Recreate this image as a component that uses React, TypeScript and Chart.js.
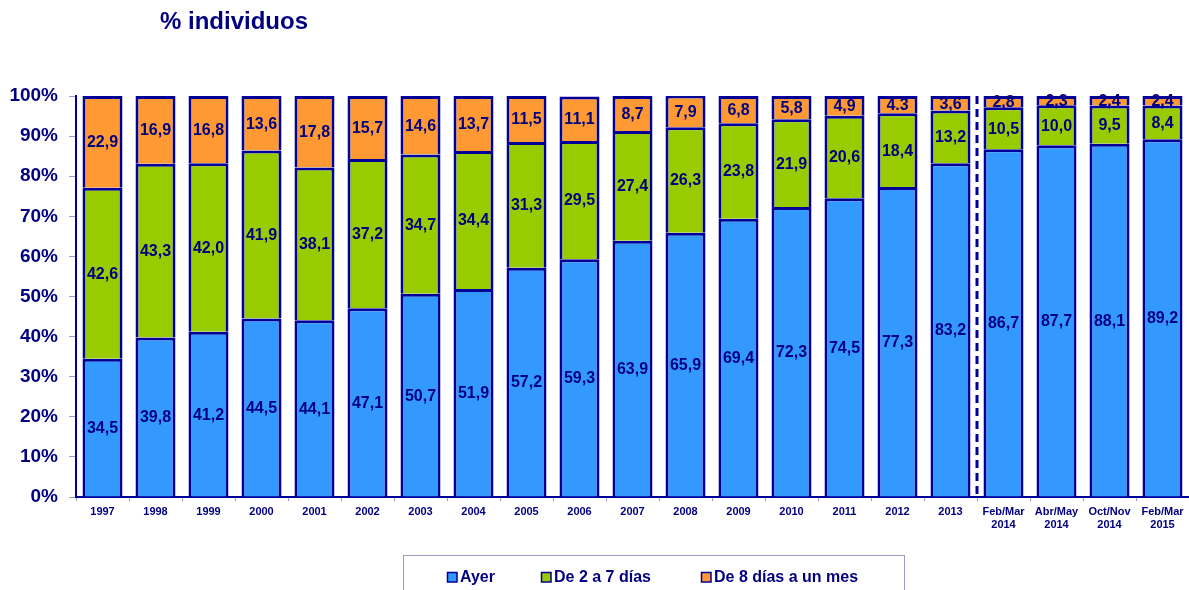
import React, { useEffect, useRef } from 'react';
import { Chart, registerables } from 'chart.js';

Chart.register(...registerables);

const categories: (string | string[])[] = [
  '1997', '1998', '1999', '2000', '2001', '2002', '2003', '2004', '2005', '2006',
  '2007', '2008', '2009', '2010', '2011', '2012', '2013',
  ['Feb/Mar', '2014'], ['Abr/May', '2014'], ['Oct/Nov', '2014'], ['Feb/Mar', '2015'],
];

const ayer = [34.5, 39.8, 41.2, 44.5, 44.1, 47.1, 50.7, 51.9, 57.2, 59.3, 63.9, 65.9, 69.4, 72.3, 74.5, 77.3, 83.2, 86.7, 87.7, 88.1, 89.2];
const de2a7 = [42.6, 43.3, 42.0, 41.9, 38.1, 37.2, 34.7, 34.4, 31.3, 29.5, 27.4, 26.3, 23.8, 21.9, 20.6, 18.4, 13.2, 10.5, 10.0, 9.5, 8.4];
const de8aMes = [22.9, 16.9, 16.8, 13.6, 17.8, 15.7, 14.6, 13.7, 11.5, 11.1, 8.7, 7.9, 6.8, 5.8, 4.9, 4.3, 3.6, 2.8, 2.3, 2.4, 2.4];

const seriesNames = ['Ayer', 'De 2 a 7 días', 'De 8 días a un mes'];
const seriesColors = ['#3399ff', '#99cc00', '#ff9933'];
const titleText = '% individuos';
// label printed with a period in the original (2012, "De 8 días a un mes")
const labelOverrides: Record<string, string> = { '2-15': '4.3' };
// the dashed separator sits between these two category indexes
const separatorAfter = 16;

const NAVY = '#000080';
const BORDER = '#000099';
const LIGHT = '#9999cc';
const FONT = '"Liberation Sans", Arial, Helvetica, sans-serif';

const fmt = (v: number, di: number, i: number) =>
  labelOverrides[`${di}-${i}`] ?? v.toFixed(1).replace('.', ',');

const overlayPlugin = {
  id: 'overlay',
  afterDatasetsDraw(chart: any) {
    const { ctx, chartArea } = chart;
    // data labels
    ctx.save();
    ctx.font = `bold 16px ${FONT}`;
    ctx.fillStyle = NAVY;
    ctx.textAlign = 'center';
    ctx.textBaseline = 'middle';
    chart.data.datasets.forEach((ds: any, di: number) => {
      const meta = chart.getDatasetMeta(di);
      meta.data.forEach((el: any, i: number) => {
        const p = el.getProps(['x', 'y', 'base'], true);
        ctx.fillText(fmt(ds.data[i], di, i), p.x, (p.y + p.base) / 2 + 1);
      });
    });
    ctx.restore();

    // dashed separator
    const xs = chart.scales.x;
    const sx = (xs.getPixelForValue(separatorAfter) + xs.getPixelForValue(separatorAfter + 1)) / 2;
    ctx.save();
    ctx.strokeStyle = BORDER;
    ctx.lineWidth = 3;
    ctx.setLineDash([8, 5]);
    ctx.beginPath();
    ctx.moveTo(sx, chartArea.top);
    ctx.lineTo(sx, chartArea.bottom);
    ctx.stroke();
    ctx.restore();
  },
  afterDraw(chart: any) {
    const { ctx } = chart;
    // title
    ctx.save();
    ctx.font = `bold 24px ${FONT}`;
    ctx.fillStyle = NAVY;
    ctx.textAlign = 'left';
    ctx.textBaseline = 'middle';
    ctx.fillText(titleText, 160, 22);
    ctx.restore();

    // legend box
    ctx.save();
    ctx.strokeStyle = LIGHT;
    ctx.lineWidth = 1;
    ctx.strokeRect(403.5, 555.5, 501, 60);
    const itemX = [447, 541, 701];
    ctx.font = `bold 16px ${FONT}`;
    ctx.textBaseline = 'middle';
    ctx.textAlign = 'left';
    seriesNames.forEach((name, i) => {
      const x = itemX[i];
      ctx.fillStyle = seriesColors[i];
      ctx.fillRect(x, 572, 10, 10);
      ctx.strokeStyle = BORDER;
      ctx.lineWidth = 1.5;
      ctx.strokeRect(x + 0.5, 572.5, 9.5, 9.5);
      ctx.fillStyle = NAVY;
      ctx.fillText(name, x + 13, 577.5);
    });
    ctx.restore();
  },
};

export default function App() {
  const ref = useRef<HTMLCanvasElement>(null);

  useEffect(() => {
    document.body.style.margin = '0';
    const canvas = ref.current!;
    const series = [ayer, de2a7, de8aMes];
    const chart = new Chart(canvas, {
      type: 'bar',
      data: {
        labels: categories as any,
        datasets: series.map((d, i) => ({
          label: seriesNames[i],
          data: d,
          backgroundColor: seriesColors[i],
          borderColor: BORDER,
          borderWidth: 3,
          barPercentage: 0.755,
          categoryPercentage: 1,
        })),
      },
      options: {
        responsive: false,
        animation: false,
        devicePixelRatio: 1,
        layout: { padding: { top: 96, right: 0, left: 0, bottom: 0 } },
        plugins: {
          legend: { display: false },
          title: { display: false },
          tooltip: { enabled: false },
        },
        scales: {
          x: {
            stacked: true,
            afterFit: (s: any) => { s.height = 93; },
            grid: {
              drawOnChartArea: false,
              drawTicks: true,
              tickLength: 4,
              color: LIGHT,
              offset: true,
            },
            border: { display: true, color: BORDER, width: 2 },
            ticks: {
              color: NAVY,
              font: { family: FONT, size: 11, weight: 'bold' },
              padding: 4,
              maxRotation: 0,
              autoSkip: false,
            },
          },
          y: {
            stacked: true,
            min: 0,
            max: 100,
            afterFit: (s: any) => { s.width = 76; },
            grid: {
              drawOnChartArea: false,
              drawTicks: true,
              tickLength: 7,
              color: LIGHT,
            },
            border: { display: true, color: BORDER, width: 2 },
            ticks: {
              stepSize: 10,
              color: NAVY,
              font: { family: FONT, size: 19, weight: 'bold' },
              padding: 11,
              callback: (v: any) => `${v}%`,
            },
          },
        },
      },
      plugins: [overlayPlugin],
    });
    return () => chart.destroy();
  }, []);

  return (
    <div style={{ position: 'absolute', left: 0, top: 0, width: 1189, height: 590, background: '#fff' }}>
      <canvas ref={ref} width={1189} height={590} style={{ display: 'block' }} />
    </div>
  );
}
